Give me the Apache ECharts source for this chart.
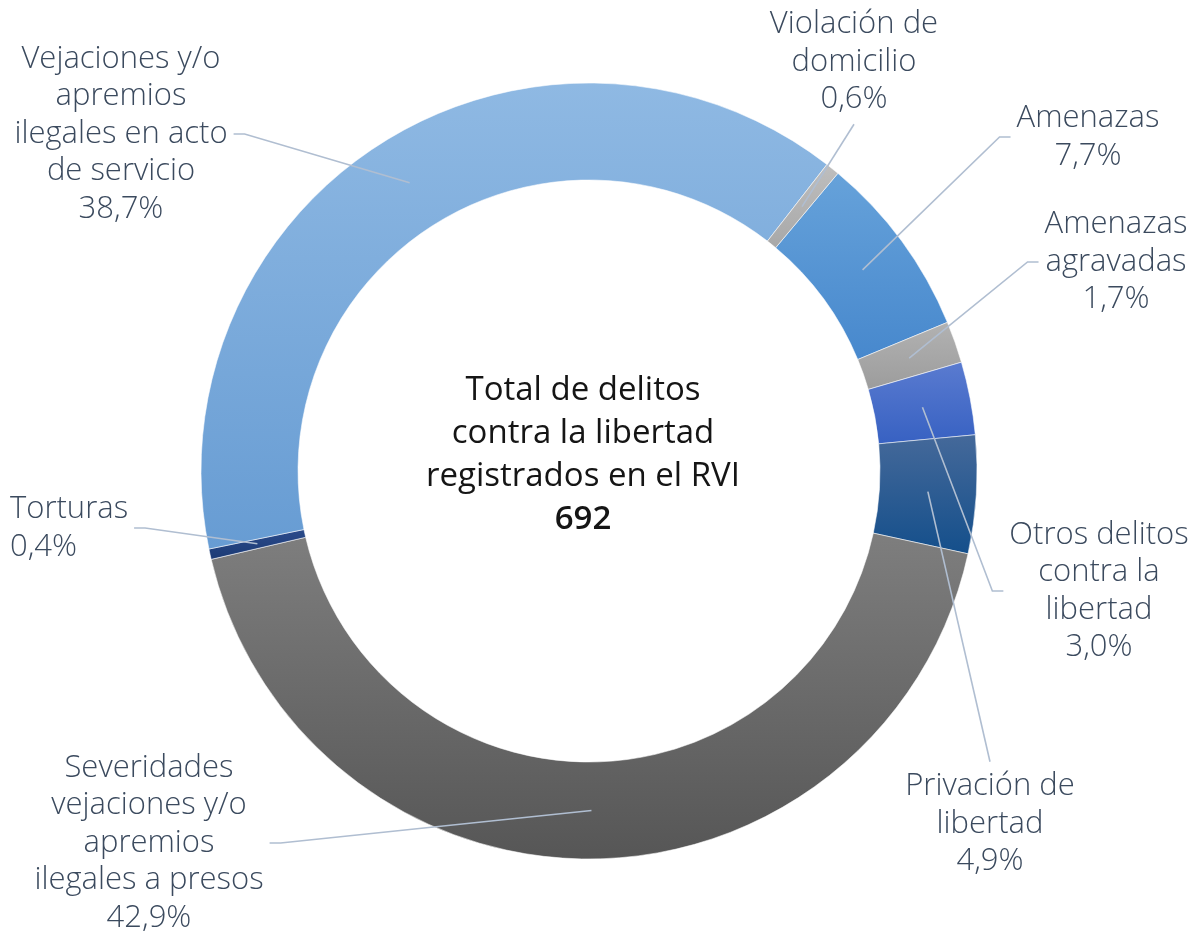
<!DOCTYPE html>
<html>
<head>
<meta charset="utf-8">
<title>Delitos contra la libertad</title>
<script src="https://cdn.jsdelivr.net/npm/echarts@6/dist/echarts.min.js"></script>
<style>
  html, body { margin: 0; padding: 0; background: #fff; }
  #chart { width: 1203px; height: 936px; }
</style>
</head>
<body>
<div id="chart"></div>
<script>
// categories, same (alphabetical) order as the source sheet
const categories = [
  'Amenazas',
  'Amenazas\nagravadas',
  'Otros delitos\ncontra la\nlibertad',
  'Privación de\nlibertad',
  'Severidades\nvejaciones y/o\napremios\nilegales a presos',
  'Torturas',
  'Vejaciones y/o\napremios\nilegales en acto\nde servicio',
  'Violación de\ndomicilio'
]
// number of offences registered
const counts = [53, 12, 21, 34, 297, 3, 268, 4]
const centerLines = ['Total de delitos', 'contra la libertad', 'registrados en el RVI']

// styling
const FONT = "'Open Sans', 'Noto Sans', sans-serif"
const sliceColors = [
  ['#66a2da', '#4788cd'],
  ['#b2b2b2', '#9c9c9c'],
  ['#5a7bd0', '#3761c2'],
  ['#45699a', '#144f8b'],
  ['#7e7e7e', '#565656'],
  ['#2b4b8b', '#1b3a74'],
  ['#8fb9e3', '#679cd3'],
  ['#bebebe', '#a8a8a8']
]
// where each label sits and which side its leader line attaches to
const labelPlaces = [
  { x: 1088, y: 137, align: 'center', side: 'left' },
  { x: 1116, y: 262, align: 'center', side: 'left' },
  { x: 1099, y: 591, align: 'center', side: 'left' },
  { x: 990, y: 824, align: 'center', side: 'top' },
  { x: 149, y: 843, align: 'center', side: 'right' },
  { x: 10, y: 528, align: 'left', side: 'right' },
  { x: 121, y: 134, align: 'center', side: 'right' },
  { x: 854, y: 62, align: 'center', side: 'bottom' }
]

const CX = 589, CY = 471, R_IN = 291, R_OUT = 388
const FIRST_ANGLE = 39.9 // degrees clockwise from 12 o'clock

const total = counts.reduce((a, b) => a + b, 0)
const midAngles = []
let acc = 0
counts.forEach(v => {
  midAngles.push((FIRST_ANGLE + (acc + v / 2) / total * 360) * Math.PI / 180)
  acc += v
})

const pct = v => (v / total * 100).toFixed(1).replace('.', ',') + '%'

const chart = echarts.init(document.getElementById('chart'))

const pieBase = {
  type: 'pie',
  center: [CX, CY],
  radius: [R_IN, R_OUT],
  startAngle: 90 - FIRST_ANGLE,
  clockwise: true,
  avoidLabelOverlap: false,
  emphasis: { disabled: true }
}

const option = {
  backgroundColor: '#ffffff',
  animation: false,
  graphic: [{
    type: 'text',
    x: 583,
    y: 455,
    z: 10,
    style: {
      text: centerLines.join('\n') + '\n{b|' + total + '}',
      fill: '#151515',
      fontFamily: FONT,
      fontSize: 33,
      fontWeight: 'normal',
      lineHeight: 43,
      align: 'center',
      verticalAlign: 'middle',
      rich: {
        b: { fontFamily: FONT, fontSize: 33, lineHeight: 43, fontWeight: 600, fill: '#151515' }
      }
    }
  }],
  series: [
    // the coloured ring
    Object.assign({}, pieBase, {
      z: 2,
      itemStyle: { borderColor: 'rgba(255,255,255,0.55)', borderWidth: 1 },
      label: { show: false },
      labelLine: { show: false },
      data: categories.map((name, i) => ({
        name: name,
        value: counts[i],
        itemStyle: {
          color: new echarts.graphic.LinearGradient(0, 0, 0, 1, [
            { offset: 0, color: sliceColors[i][0] },
            { offset: 1, color: sliceColors[i][1] }
          ])
        }
      }))
    }),
    // transparent copy on top, carries labels so the leader lines sit above the ring
    Object.assign({}, pieBase, {
      z: 3,
      silent: true,
      itemStyle: { color: 'rgba(0,0,0,0)', borderWidth: 0 },
      label: {
        show: true,
        position: 'outside',
        formatter: p => p.name + '\n' + pct(p.value),
        fontFamily: FONT,
        fontWeight: 300,
        fontSize: 31,
        lineHeight: 37.5,
        color: '#3b4a5e',
        align: 'center'
      },
      labelLine: {
        show: true,
        length: 10,
        length2: 10,
        lineStyle: { color: '#b0bed1', width: 1.6 }
      },
      labelLayout: function (params) {
        const i = params.dataIndex
        const p = labelPlaces[i]
        const w = params.labelRect.width
        const h = params.labelRect.height
        const a = midAngles[i]
        const rMid = (R_IN + R_OUT) / 2
        const start = [CX + rMid * Math.sin(a), CY - rMid * Math.cos(a)]
        const left = p.align === 'left' ? p.x : p.x - w / 2
        const right = left + w
        const gap = 6, stub = 11
        let pts
        if (p.side === 'left') {
          pts = [start, [left - gap - stub, p.y], [left - gap, p.y]]
        } else if (p.side === 'right') {
          pts = [start, [right + gap + stub, p.y], [right + gap, p.y]]
        } else if (p.side === 'top') {
          const e = [p.x, p.y - h / 2 - gap]
          pts = [start, e, e]
        } else {
          const e = [p.x, p.y + h / 2 + gap]
          pts = [start, e, e]
        }
        return {
          x: p.x,
          y: p.y,
          align: p.align,
          verticalAlign: 'middle',
          labelLinePoints: pts
        }
      },
      data: categories.map((name, i) => ({ name: name, value: counts[i] }))
    })
  ]
}

chart.setOption(option)
</script>
</body>
</html>
